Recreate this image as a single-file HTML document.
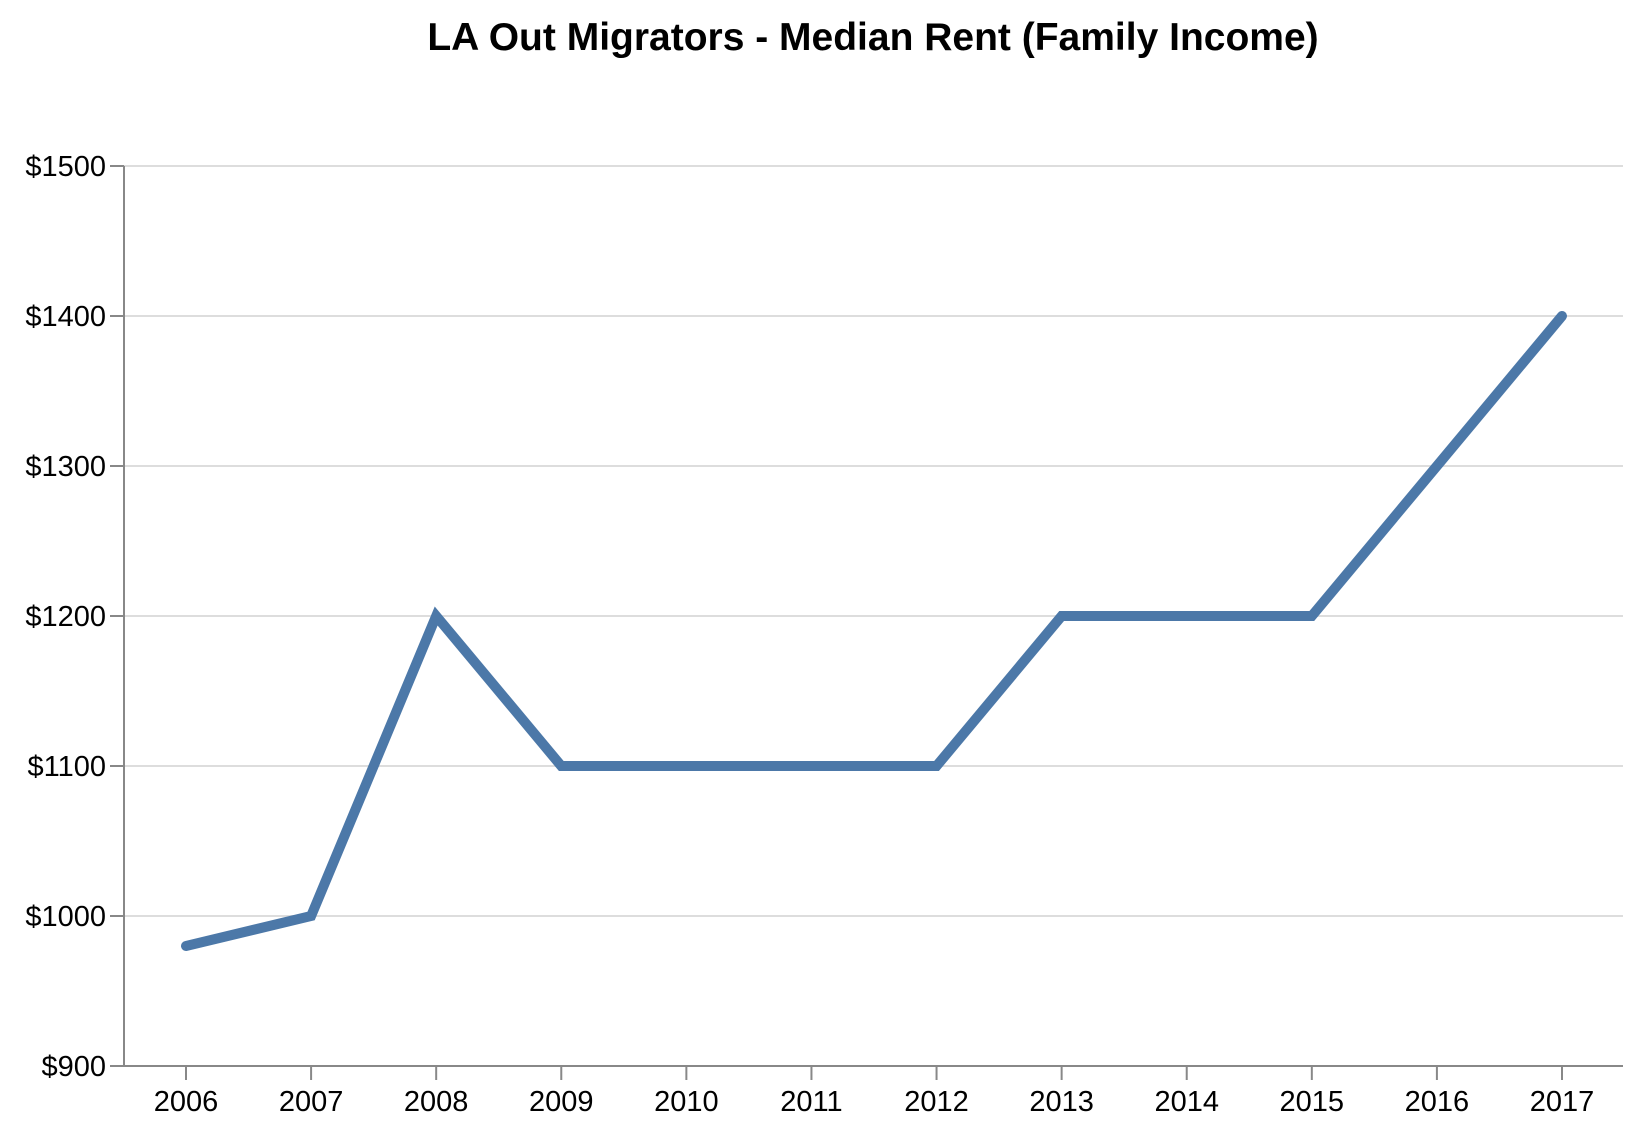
<!DOCTYPE html>
<html><head><meta charset="utf-8"><style>
html,body{margin:0;padding:0;background:#fff;}
svg{display:block;font-family:"Liberation Sans",Arial,sans-serif;}
</style></head><body>
<svg id="chart" width="1638" height="1134" viewBox="0 0 1638 1134" xmlns="http://www.w3.org/2000/svg">
<text x="873" y="50" text-anchor="middle" font-size="39" font-weight="bold" fill="#000">LA Out Migrators - Median Rent (Family Income)</text>
<g id="grid"></g><g id="axes"></g><g id="marks"></g>
</svg>
<script>
const years = [2006,2007,2008,2009,2010,2011,2012,2013,2014,2015,2016,2017];
const rent = [980,1000,1200,1100,1100,1100,1100,1200,1200,1200,1300,1400];
const yTicks = [900,1000,1100,1200,1300,1400,1500];

const ns='http://www.w3.org/2000/svg';
const L=124,R=1623,T=166,B=1066;
const x0=186,x1=1562;
function xs(i){return x0+(x1-x0)*i/(years.length-1);}
function ys(v){return B-(v-900)/(1500-900)*(B-T);}
function mk(tag,attrs,parent){const e=document.createElementNS(ns,tag);for(const k in attrs)e.setAttribute(k,attrs[k]);parent.appendChild(e);return e;}
const grid=document.getElementById('grid'),axes=document.getElementById('axes'),marks=document.getElementById('marks');
yTicks.forEach(v=>{
  const y=ys(v);
  if(v>900){const g=mk('line',{x1:L,x2:R,y1:y,y2:y,stroke:'#ddd','stroke-width':2},grid);
  
  }
  const t=mk('line',{x1:L-14,x2:L,y1:y,y2:y,stroke:'#888','stroke-width':2},axes);
  
  
  const lb=mk('text',{x:L-18,y:y+10,'text-anchor':'end','font-size':29,fill:'#000'},axes);
  lb.textContent='$'+v;
  
  
});
years.forEach((yr,i)=>{
  const x=xs(i);
  const t=mk('line',{x1:x,x2:x,y1:B,y2:B+14,stroke:'#888','stroke-width':2},axes);
  
  
  const lb=mk('text',{x:x,y:B+45,'text-anchor':'middle','font-size':29,fill:'#000'},axes);
  lb.textContent=yr;
  
  
});
const ya=mk('line',{x1:L,x2:L,y1:T,y2:B+1,stroke:'#888','stroke-width':2},axes);


const xa=mk('line',{x1:L-1,x2:R,y1:B,y2:B,stroke:'#888','stroke-width':2},axes);


const pts=rent.map((v,i)=>xs(i)+','+ys(v)).join(' ');
const pl=mk('polyline',{points:pts,fill:'none',stroke:'#4c78a8','stroke-width':10,'stroke-linecap':'round','stroke-linejoin':'miter'},marks);


</script>
</body></html>
